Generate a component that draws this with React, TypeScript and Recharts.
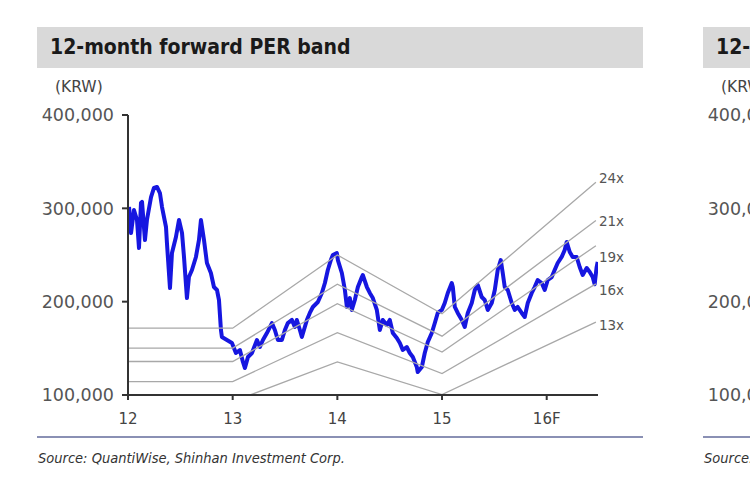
import React from 'react';
import { LineChart, Line, XAxis, YAxis } from 'recharts';

// daily price path (decimal year, KRW)
const priceDates = [
  2012.01, 2012.029, 2012.057, 2012.086, 2012.105, 2012.124, 2012.134, 2012.162, 2012.181, 2012.22,
  2012.248, 2012.277, 2012.305, 2012.325, 2012.363, 2012.372, 2012.401, 2012.42, 2012.458, 2012.487,
  2012.516, 2012.535, 2012.563, 2012.582, 2012.611, 2012.649, 2012.678, 2012.697, 2012.726, 2012.754,
  2012.792, 2012.821, 2012.85, 2012.869, 2012.888, 2012.897, 2012.945, 2012.993, 2013.031, 2013.069,
  2013.098, 2013.117, 2013.146, 2013.184, 2013.232, 2013.26, 2013.289, 2013.327, 2013.375, 2013.403,
  2013.432, 2013.47, 2013.499, 2013.527, 2013.566, 2013.594, 2013.613, 2013.642, 2013.661, 2013.709,
  2013.737, 2013.766, 2013.814, 2013.852, 2013.881, 2013.909, 2013.938, 2013.957, 2013.995, 2014.005,
  2014.043, 2014.072, 2014.091, 2014.119, 2014.138, 2014.167, 2014.196, 2014.234, 2014.243, 2014.282,
  2014.31, 2014.339, 2014.377, 2014.406, 2014.434, 2014.473, 2014.501, 2014.53, 2014.568, 2014.597,
  2014.625, 2014.663, 2014.692, 2014.721, 2014.759, 2014.768, 2014.807, 2014.835, 2014.864, 2014.902,
  2014.931, 2014.959, 2014.998, 2015.026, 2015.055, 2015.093, 2015.103, 2015.122, 2015.15, 2015.189,
  2015.217, 2015.246, 2015.284, 2015.313, 2015.341, 2015.379, 2015.408, 2015.437, 2015.475, 2015.504,
  2015.532, 2015.561, 2015.58, 2015.599, 2015.628, 2015.666, 2015.695, 2015.723, 2015.761, 2015.79,
  2015.819, 2015.857, 2015.885, 2015.914, 2015.952, 2015.981, 2016.01, 2016.048, 2016.076, 2016.105,
  2016.143, 2016.172, 2016.191, 2016.22, 2016.248, 2016.286, 2016.315, 2016.344, 2016.382, 2016.411,
  2016.439, 2016.458, 2016.477, 2016.487,
];
const priceValues = [
  301400, 273600, 298200, 287500, 257500, 305700, 306800, 266100, 287500, 312100,
  321800, 322900, 316400, 301400, 280000, 262900, 214600, 252100, 269300, 287500,
  273600, 247900, 203900, 226400, 233900, 247900, 266100, 287500, 266100, 241400,
  230700, 215700, 212500, 201800, 169600, 162100, 158900, 155700, 145000, 148200,
  135400, 128900, 140700, 145000, 158900, 151400, 158900, 166400, 177100, 169600,
  158900, 158900, 169600, 177100, 180400, 172900, 180400, 169600, 162100, 180400,
  187900, 194300, 199600, 209300, 220000, 233900, 244600, 250000, 252100, 244600,
  230700, 212500, 194300, 203900, 191100, 201800, 215700, 226400, 228600, 215700,
  209300, 203900, 191100, 169600, 180400, 175000, 180400, 166400, 161100, 155700,
  148200, 151400, 145000, 140700, 130000, 124600, 130000, 145000, 156800, 166400,
  177100, 187900, 191100, 198600, 209300, 220000, 215700, 194300, 187900, 180400,
  172900, 187900, 198600, 212500, 217900, 205000, 201800, 191100, 198600, 212500,
  233900, 244600, 230700, 215700, 212500, 198600, 191100, 194300, 187900, 183600,
  198600, 209300, 215700, 223200, 220000, 212500, 223200, 226400, 233900, 241400,
  247900, 255400, 263900, 253200, 247900, 247900, 237100, 228600, 236100, 231800,
  226400, 218600, 237100, 242500,
];

// PER band breakpoints
const bandDates = [2012.0, 2013.0, 2014.0, 2015.0, 2016.47];
const band24x = [171600, 171600, 250000, 187000, 328000];
const band21x = [150200, 150200, 218800, 163000, 287000];
const band19x = [135900, 135900, 197900, 146000, 260000];
const band16x = [114400, 114400, 166700, 123000, 219000];
const band13x = [93000, 93000, 135400, 100500, 178000];
const bandNames = ['24x', '21x', '19x', '16x', '13x'];

const yTicks = [100000, 200000, 300000, 400000];
const xTicks = [2012, 2013, 2014, 2015, 2016];
const xTickLabels = ['12', '13', '14', '15', '16F'];

const priceData = priceDates.map((t, i) => ({ t, price: priceValues[i] }));
const bands = [band24x, band21x, band19x, band16x, band13x].map((vals, k) => ({
  name: bandNames[k],
  data: bandDates.map((t, i) => ({ t, v: vals[i] })),
}));

// nudges so the end labels sit like the original
const labelDy: Record<string, number> = { '24x': -4, '21x': 1, '19x': 12, '16x': 6, '13x': 3 };

const font = '"DejaVu Sans", Verdana, sans-serif';
const condensed = '"DejaVu Sans Condensed", "DejaVu Sans", sans-serif';

const EndLabel = (name: string, last: number) => (props: any) => {
  if (props.index !== last) return null;
  return (
    <text x={props.x + 3} y={props.y + labelDy[name]} dy="0.35em" fill="#555" fontSize={13.5} fontFamily={font}>
      {name}
    </text>
  );
};

const Panel = ({ left, title, showSeries }: { left: number; title: string; showSeries: boolean }) => (
  <>
    <div
      style={{
        position: 'absolute', left: left + 37, top: 27, width: 606, height: 41, background: '#d9d9d9',
        fontFamily: condensed, fontWeight: 'bold', fontSize: 21,
        color: '#1a1a1a', lineHeight: '41px', paddingLeft: 13, boxSizing: 'border-box', whiteSpace: 'nowrap',
      }}
    >
      {title}
    </div>
    <div style={{ position: 'absolute', left: left + 55, top: 78, fontFamily: font, fontSize: 15.5, color: '#444' }}>
      (KRW)
    </div>
    <div style={{ position: 'absolute', left, top: 0 }}>
      <LineChart width={650} height={440} data={priceData} margin={{ top: 115, right: 52, left: 0, bottom: 0 }}>
        <XAxis
          dataKey="t"
          type="number"
          domain={[2012, 2016.49]}
          ticks={xTicks}
          tickFormatter={(v: number) => xTickLabels[xTicks.indexOf(v)]}
          height={45}
          tickSize={5}
          tickMargin={13}
          stroke="#333"
          strokeWidth={2}
          tick={{ fill: '#444', fontSize: 15, fontFamily: font }}
          allowDataOverflow
        />
        <YAxis
          type="number"
          domain={[100000, 400000]}
          ticks={yTicks}
          tickFormatter={(v: number) => v.toLocaleString('en-US')}
          width={128}
          tickSize={6}
          tickMargin={8}
          stroke="#333"
          strokeWidth={2}
          tick={{ fill: '#555', fontSize: 17.5, fontFamily: font }}
          allowDataOverflow
        />
        {showSeries && (
          <Line
            dataKey="price"
            stroke="#1616e0"
            strokeWidth={4}
            strokeLinejoin="round"
            dot={false}
            isAnimationActive={false}
          />
        )}
        {showSeries &&
          bands.map((b) => (
            <Line
              key={b.name}
              data={b.data}
              dataKey="v"
              stroke="#a8a8a8"
              strokeWidth={1.3}
              dot={false}
              isAnimationActive={false}
              label={EndLabel(b.name, b.data.length - 1)}
            />
          ))}
      </LineChart>
    </div>
    <div style={{ position: 'absolute', left: left + 37, top: 436, width: 606, height: 2, background: '#8a90b4' }} />
    <div
      style={{
        position: 'absolute', left: left + 38, top: 450, fontFamily: condensed,
        fontStyle: 'italic', fontSize: 14.5, color: '#333', whiteSpace: 'nowrap',
      }}
    >
      Source: QuantiWise, Shinhan Investment Corp.
    </div>
  </>
);

export default function App() {
  return (
    <div style={{ position: 'absolute', left: 0, top: 0, width: 750, height: 495, overflow: 'hidden', background: '#fff' }}>
      <Panel left={0} title="12-month forward PER band" showSeries />
      <Panel left={666} title="12-month trailing PBR band" showSeries={false} />
    </div>
  );
}
